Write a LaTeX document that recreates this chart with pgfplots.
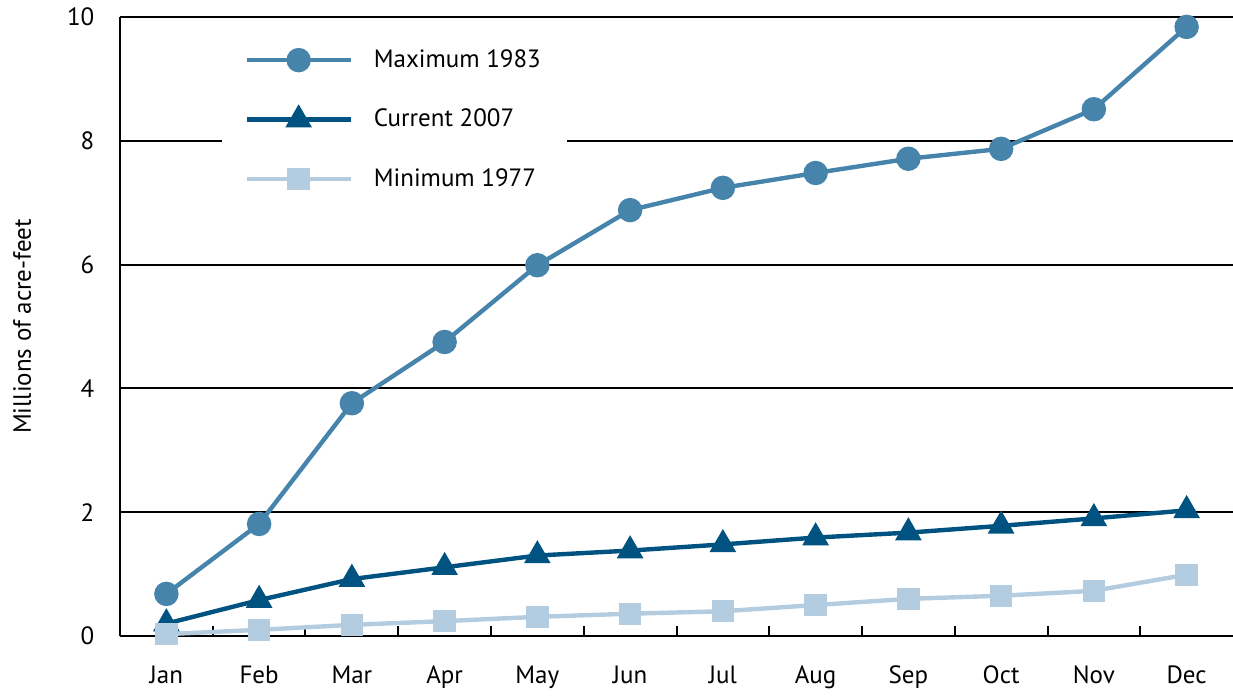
\documentclass[border=0pt]{standalone}
\usepackage{fontspec}
\setmainfont{PT Sans}
\usepackage{pgfplots}
\pgfplotsset{compat=1.18}
\usetikzlibrary{calc}

\definecolor{maxc}{RGB}{70,132,172}
\definecolor{curc}{RGB}{0,82,128}
\definecolor{minc}{RGB}{180,204,224}

\begin{document}
\fontsize{12.5}{15}\selectfont
\begin{tikzpicture}
\begin{axis}[
    scale only axis,
    width=556.5pt, height=309.5pt,
    xmin=-0.5, xmax=11.5,
    ymin=0, ymax=10,
    clip=false,
    axis x line*=bottom,
    axis y line*=left,
    axis line style={line width=1pt, -},
    xtick={0,...,11},
    xticklabels={Jan,Feb,Mar,Apr,May,Jun,Jul,Aug,Sep,Oct,Nov,Dec},
    minor x tick num=1,
    major tick length=0pt,
    minor tick length=5pt,
    tick align=inside,
    minor tick style={line width=1pt, black},
    ytick={0,2,...,10},
    ymajorgrids,
    grid style={line width=1pt, black},
    /pgf/number format/assume math mode=true,
    ticklabel style={font=\fontsize{12.5}{15}\selectfont},
    xticklabel style={anchor=base, yshift=-23.5pt},
    yticklabel style={xshift=-8.5pt},
    ylabel={Millions of acre-feet},
    ylabel style={at={(axis description cs:-0.088,0.5)}, anchor=center, font=\fontsize{12.5}{15}\selectfont},
    legend style={at={(0.0917,0.971)}, anchor=north west, fill=white, draw=none,
        inner xsep=11pt, inner ysep=5pt, row sep=15pt,
        font=\fontsize{12.5}{15}\selectfont,
        /tikz/every odd column/.append style={column sep=8.5pt}},
    legend cell align=left,
    legend image code/.code={%
        \draw[mark repeat=2,mark phase=2] plot coordinates {(0pt,0pt) (26pt,0pt) (52pt,0pt)};},
    every axis plot/.append style={line width=2.2pt},
]
\addplot[color=maxc, mark=*, mark size=5pt, mark options={solid}] coordinates {
    (0,0.68) (1,1.81) (2,3.76) (3,4.75) (4,5.99) (5,6.88)
    (6,7.24) (7,7.48) (8,7.71) (9,7.87) (10,8.51) (11,9.84)};
\addlegendentry{Maximum 1983}
\addplot[color=curc, mark=triangle*, mark size=5.5pt] coordinates {
    (0,0.20) (1,0.58) (2,0.92) (3,1.11) (4,1.30) (5,1.38)
    (6,1.48) (7,1.59) (8,1.67) (9,1.78) (10,1.90) (11,2.03)};
\addlegendentry{Current 2007}
\addplot[color=minc, mark=square*, mark size=4.5pt] coordinates {
    (0,0.03) (1,0.10) (2,0.18) (3,0.24) (4,0.31) (5,0.36)
    (6,0.40) (7,0.50) (8,0.60) (9,0.65) (10,0.73) (11,0.99)};
\addlegendentry{Minimum 1977}
\end{axis}
\pgfresetboundingbox
\path ($(current axis.south west)+(-60pt,-30pt)$) rectangle ($(current axis.north east)+(0pt,8.5pt)$);
\end{tikzpicture}
\end{document}
